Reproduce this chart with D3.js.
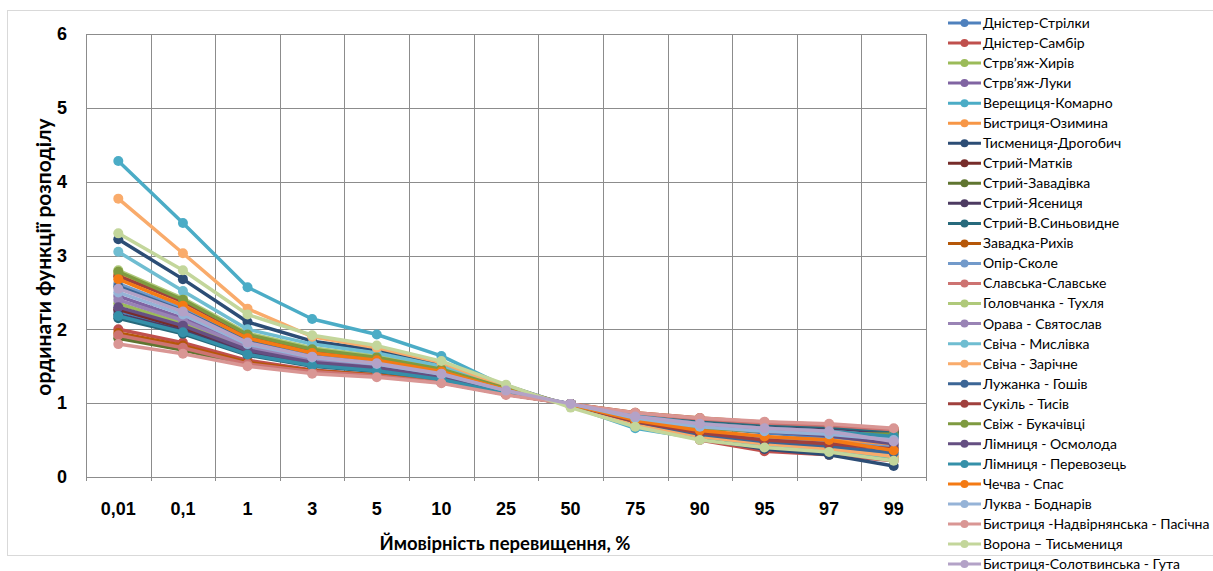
<!DOCTYPE html>
<html>
<head>
<meta charset="utf-8">
<script src="https://cdn.jsdelivr.net/npm/d3@7"></script>
<style>
  body { margin: 0; background: #fff; }
  svg { font-family: Lato, "Noto Sans", sans-serif; }
  .tick text { font-weight: bold; font-size: 18px; fill: #000; }
  .legend text { font-size: 14px; fill: #000; }
</style>
</head>
<body>
<div id="chart"></div>
<script>
var width = 1213,
    height = 571;

// categories (exceedance probability, %)
var categories = ["0,01", "0,1", "1", "3", "5", "10", "25", "50", "75", "90", "95", "97", "99"];
var yTicks = [0, 1, 2, 3, 4, 5, 6];

var names = [
  "Дністер-Стрілки", "Дністер-Самбір", "Стрв’яж-Хирів", "Стрв’яж-Луки",
  "Верещиця-Комарно", "Бистриця-Озимина", "Тисмениця-Дрогобич", "Стрий-Матків",
  "Стрий-Завадівка", "Стрий-Ясениця", "Стрий-В.Синьовидне", "Завадка-Рихів",
  "Опір-Сколе", "Славська-Славське", "Головчанка - Тухля", "Орава - Святослав",
  "Свіча - Мислівка", "Свіча - Зарічне", "Лужанка - Гошів", "Сукіль - Тисів",
  "Свіж - Букачівці", "Лімниця - Осмолода", "Лімниця - Перевозець", "Чечва - Спас",
  "Луква - Боднарів", "Бистриця -Надвірнянська - Пасічна", "Ворона – Тисьмениця",
  "Бистриця-Солотвинська - Гута"
];

var colors = [
  "#4F81BD", "#C0504D", "#9BBB59", "#8064A2", "#4BACC6", "#F79646",
  "#2C4D75", "#772C2A", "#5F7530", "#4D3B62", "#276A7C", "#B65708",
  "#729ACA", "#CD7371", "#AFC97A", "#9983B5", "#6FBDD1", "#F9AB6B",
  "#3C6696", "#A0403D", "#7E9A40", "#654F82", "#3590A9", "#F47A14",
  "#95B3D7", "#D99694", "#C3D69B", "#B3A2C7"
];

// series values, one array per gauge, in legend order
var dnisterStrilky   = [2.25, 2.00, 1.69, 1.53, 1.46, 1.34, 1.14, 0.99, 0.81, 0.68, 0.60, 0.53, 0.42];
var dnisterSambir    = [2.00, 1.82, 1.58, 1.45, 1.38, 1.28, 1.12, 0.99, 0.80, 0.50, 0.35, 0.30, 0.22];
var stryvyazhKhyriv  = [2.35, 2.08, 1.74, 1.57, 1.49, 1.36, 1.15, 0.99, 0.83, 0.74, 0.68, 0.64, 0.58];
var stryvyazhLuky    = [2.45, 2.15, 1.78, 1.60, 1.51, 1.38, 1.16, 0.99, 0.80, 0.70, 0.64, 0.60, 0.52];
var vereshchytsya    = [4.28, 3.44, 2.57, 2.14, 1.93, 1.64, 1.22, 0.96, 0.66, 0.52, 0.42, 0.36, 0.26];
var bystrytsyaOzym   = [2.75, 2.36, 1.90, 1.70, 1.60, 1.44, 1.18, 0.98, 0.76, 0.62, 0.54, 0.50, 0.42];
var tysmenytsya      = [3.22, 2.68, 2.10, 1.84, 1.72, 1.52, 1.24, 0.96, 0.72, 0.52, 0.38, 0.30, 0.15];
var stryiMatkiv      = [2.27, 2.02, 1.70, 1.54, 1.47, 1.34, 1.14, 0.99, 0.84, 0.76, 0.70, 0.67, 0.62];
var stryiZavadivka   = [1.88, 1.72, 1.52, 1.42, 1.37, 1.28, 1.12, 0.99, 0.86, 0.78, 0.73, 0.70, 0.62];
var stryiYasenytsya  = [2.20, 1.98, 1.68, 1.52, 1.45, 1.33, 1.14, 0.99, 0.84, 0.75, 0.70, 0.66, 0.60];
var stryiSynovydne   = [2.15, 1.94, 1.65, 1.50, 1.43, 1.32, 1.13, 0.99, 0.84, 0.76, 0.71, 0.68, 0.62];
var zavadkaRykhiv    = [1.95, 1.78, 1.55, 1.44, 1.38, 1.29, 1.12, 0.99, 0.87, 0.80, 0.74, 0.71, 0.65];
var oporSkole        = [2.62, 2.28, 1.86, 1.66, 1.56, 1.42, 1.18, 0.98, 0.76, 0.60, 0.52, 0.47, 0.40];
var slavska          = [1.92, 1.75, 1.53, 1.43, 1.37, 1.28, 1.12, 0.99, 0.86, 0.79, 0.73, 0.70, 0.64];
var holovchanka      = [2.80, 2.42, 1.95, 1.75, 1.64, 1.47, 1.20, 0.97, 0.73, 0.55, 0.45, 0.40, 0.27];
var orava            = [2.40, 2.12, 1.76, 1.58, 1.50, 1.37, 1.16, 0.99, 0.82, 0.72, 0.66, 0.62, 0.55];
var svichaMyslivka   = [3.05, 2.52, 2.00, 1.80, 1.68, 1.50, 1.22, 0.97, 0.70, 0.55, 0.45, 0.38, 0.30];
var svichaZarichne   = [3.77, 3.03, 2.28, 1.90, 1.75, 1.55, 1.22, 0.97, 0.70, 0.55, 0.45, 0.38, 0.28];
var luzhanka         = [2.58, 2.25, 1.84, 1.64, 1.55, 1.41, 1.17, 0.98, 0.75, 0.58, 0.48, 0.42, 0.33];
var sukil            = [2.72, 2.38, 1.92, 1.72, 1.60, 1.45, 1.19, 0.98, 0.75, 0.60, 0.50, 0.45, 0.38];
var svizh            = [2.78, 2.40, 1.93, 1.73, 1.62, 1.46, 1.20, 0.98, 0.78, 0.66, 0.62, 0.59, 0.58];
var limnytsyaOsmol   = [2.30, 2.05, 1.72, 1.55, 1.48, 1.35, 1.15, 0.99, 0.82, 0.70, 0.62, 0.56, 0.45];
var limnytsyaPerev   = [2.18, 1.96, 1.66, 1.51, 1.44, 1.32, 1.13, 0.99, 0.83, 0.72, 0.66, 0.62, 0.55];
var chechva          = [2.68, 2.32, 1.88, 1.68, 1.58, 1.43, 1.18, 0.98, 0.77, 0.63, 0.55, 0.50, 0.36];
var lukva            = [2.50, 2.20, 1.80, 1.62, 1.53, 1.39, 1.17, 0.99, 0.80, 0.68, 0.62, 0.58, 0.50];
var nadvirnyanska    = [1.80, 1.67, 1.50, 1.40, 1.35, 1.27, 1.11, 0.99, 0.87, 0.80, 0.75, 0.72, 0.66];
var vorona           = [3.30, 2.80, 2.20, 1.92, 1.78, 1.57, 1.25, 0.94, 0.68, 0.50, 0.40, 0.34, 0.22];
var solotvynska      = [2.55, 2.24, 1.82, 1.63, 1.54, 1.40, 1.17, 0.99, 0.82, 0.72, 0.66, 0.62, 0.48];

var seriesValues = [
  dnisterStrilky, dnisterSambir, stryvyazhKhyriv, stryvyazhLuky, vereshchytsya,
  bystrytsyaOzym, tysmenytsya, stryiMatkiv, stryiZavadivka, stryiYasenytsya,
  stryiSynovydne, zavadkaRykhiv, oporSkole, slavska, holovchanka, orava,
  svichaMyslivka, svichaZarichne, luzhanka, sukil, svizh, limnytsyaOsmol,
  limnytsyaPerev, chechva, lukva, nadvirnyanska, vorona, solotvynska
];

var series = names.map(function(n, i) {
  return { name: n, color: colors[i], values: seriesValues[i] };
});

var svg = d3.select("#chart").append("svg")
    .attr("width", width)
    .attr("height", height);

// chart border
svg.append("rect")
    .attr("x", 7.5).attr("y", 10.5)
    .attr("width", 1220).attr("height", 545)
    .attr("fill", "none")
    .attr("stroke", "#d9d9d9");

var plotLeft = 86, plotRight = 926, plotTop = 34, plotBottom = 477;

var x = d3.scaleBand().domain(categories).range([plotLeft, plotRight]).padding(0);
var y = d3.scaleLinear().domain([0, 6]).range([plotBottom, plotTop]);

// horizontal grid
svg.append("g")
    .selectAll("line")
    .data(yTicks)
    .enter().append("line")
    .attr("x1", plotLeft).attr("x2", plotRight)
    .attr("y1", function(d) { return Math.round(y(d)) + 0.5; })
    .attr("y2", function(d) { return Math.round(y(d)) + 0.5; })
    .style("stroke", "#8c8c8c")
    .style("stroke-width", 1);

// vertical grid, between categories
var bounds = categories.map(function(c) { return x(c); }).concat([plotRight]);
svg.append("g")
    .selectAll("line")
    .data(bounds)
    .enter().append("line")
    .attr("x1", function(d) { return Math.round(d) + 0.5; })
    .attr("x2", function(d) { return Math.round(d) + 0.5; })
    .attr("y1", plotTop).attr("y2", plotBottom + 4)
    .style("stroke", "#8c8c8c")
    .style("stroke-width", 1);

// axes
var yAxis = svg.append("g")
    .attr("transform", "translate(" + (plotLeft - 16) + ",0)")
    .call(d3.axisLeft(y).tickValues(yTicks).tickSize(0).tickFormat(d3.format("d")));
yAxis.select(".domain").remove();

var xAxis = svg.append("g")
    .attr("transform", "translate(0," + (plotBottom + 22) + ")")
    .call(d3.axisBottom(x).tickSize(0));
xAxis.select(".domain").remove();

// axis titles
svg.append("text")
    .attr("transform", "translate(51,257) rotate(-90)")
    .attr("text-anchor", "middle")
    .style("font-weight", "bold")
    .style("font-size", "21px")
    .text("ординати функції розподілу");

svg.append("text")
    .attr("x", 505).attr("y", 550)
    .attr("text-anchor", "middle")
    .style("font-weight", "bold")
    .style("font-size", "18.5px")
    .text("Ймовірність перевищення, %");

// lines + markers
var line = d3.line()
    .x(function(d, i) { return x(categories[i]) + x.bandwidth() / 2; })
    .y(function(d) { return y(d); });

var groups = svg.selectAll(".series")
    .data(series)
    .enter().append("g")
    .attr("class", "series");

groups.append("path")
    .attr("d", function(d) { return line(d.values); })
    .attr("fill", "none")
    .attr("stroke", function(d) { return d.color; })
    .attr("stroke-width", 3.5)
    .attr("stroke-linejoin", "round");

groups.selectAll("circle")
    .data(function(d) { return d.values.map(function(v, i) { return { v: v, i: i, c: d.color }; }); })
    .enter().append("circle")
    .attr("cx", function(d) { return x(categories[d.i]) + x.bandwidth() / 2; })
    .attr("cy", function(d) { return y(d.v); })
    .attr("r", 5)
    .attr("fill", function(d) { return d.c; });

// legend
var legend = svg.append("g")
    .attr("class", "legend")
    .selectAll("g")
    .data(series)
    .enter().append("g")
    .attr("transform", function(d, i) { return "translate(948," + (23 + i * 20.04) + ")"; });

legend.append("line")
    .attr("x1", 0).attr("x2", 33)
    .attr("stroke", function(d) { return d.color; })
    .attr("stroke-width", 3);

legend.append("circle")
    .attr("cx", 16.5).attr("r", 4)
    .attr("fill", function(d) { return d.color; });

legend.append("text")
    .attr("x", 35)
    .attr("dy", "0.35em")
    .text(function(d) { return d.name; });
</script>
</body>
</html>
